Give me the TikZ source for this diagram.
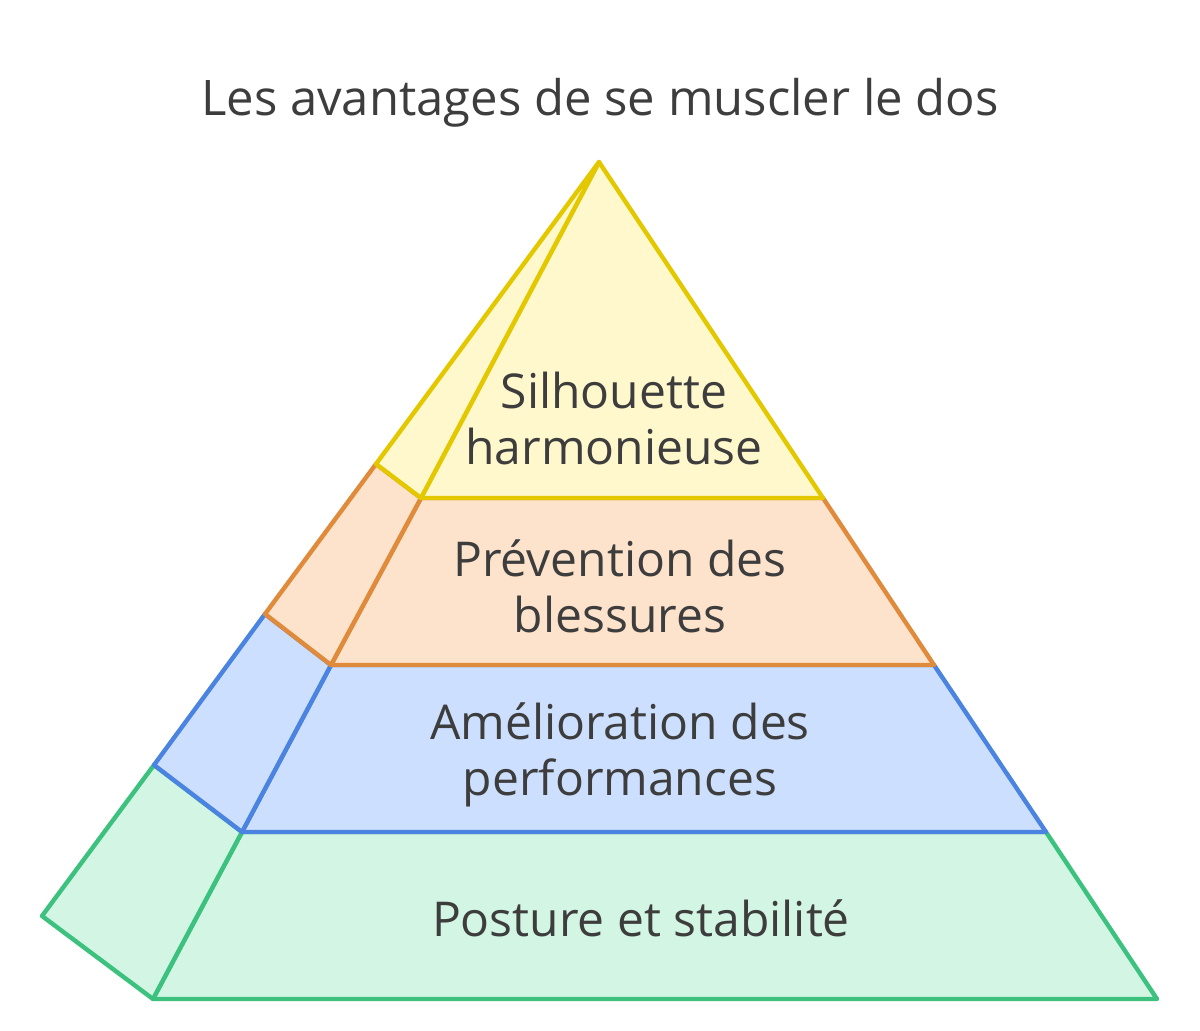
\documentclass[tikz,border=0pt]{standalone}
\usepackage{fontspec}
\setmainfont{Open Sans}
\usetikzlibrary{positioning}
\definecolor{texte}{HTML}{3D3D3D}
\definecolor{jauneTrait}{HTML}{E3C800}
\definecolor{jauneFond}{HTML}{FFF8CC}
\definecolor{orangeTrait}{HTML}{E08A3C}
\definecolor{orangeFond}{HTML}{FDE3CC}
\definecolor{bleuTrait}{HTML}{4A84E0}
\definecolor{bleuFond}{HTML}{CDDFFE}
\definecolor{vertTrait}{HTML}{3CC27E}
\definecolor{vertFond}{HTML}{D3F5E4}
\tikzset{
  couche/.style = {line width=2.2pt, line join=round},
  couche_j/.style = {couche, draw=jauneTrait, fill=jauneFond},% couche jaune, sommet
  couche_o/.style = {couche, draw=orangeTrait, fill=orangeFond},% couche orange
  couche_b/.style = {couche, draw=bleuTrait, fill=bleuFond},% couche bleue
  couche_v/.style = {couche, draw=vertTrait, fill=vertFond},% couche verte, base
  etiquette/.style = {align=center, text=texte, inner sep=0pt,
    font=\fontsize{24}{28}\selectfont},
  titre/.style = {etiquette, font=\fontsize{24.5}{28}\selectfont}
}
\begin{document}
\begin{tikzpicture}[x=0.5pt,y=-0.5pt]
        \useasboundingbox (0,0) rectangle (1200,1031);
        % sommet et aretes
        \coordinate (S) at (599,162);
        \coordinate (j1) at (421,498); \coordinate (j2) at (823,498); \coordinate (js) at (376,464);
        \coordinate (o1) at (331,665); \coordinate (o2) at (934,665); \coordinate (os) at (265,614);
        \coordinate (b1) at (242,832); \coordinate (b2) at (1046,832); \coordinate (bs) at (154,765);
        \coordinate (v1) at (153,999); \coordinate (v2) at (1157,999); \coordinate (vs) at (42,916);
        % base vers sommet
        \draw [couche_v] (v1) -- (v2) -- (b2) -- (b1) -- cycle;
        \draw [couche_v] (v1) -- (vs) -- (bs) -- (b1) -- cycle;
        \draw [couche_b] (b1) -- (b2) -- (o2) -- (o1) -- cycle;
        \draw [couche_b] (b1) -- (bs) -- (os) -- (o1) -- cycle;
        \draw [couche_o] (o1) -- (o2) -- (j2) -- (j1) -- cycle;
        \draw [couche_o] (o1) -- (os) -- (js) -- (j1) -- cycle;
        \draw [couche_j] (j1) -- (j2) -- (S) -- cycle;
        \draw [couche_j] (j1) -- (js) -- (S) -- cycle;
        % textes
        \node [titre] (T) at (600,103) {Les avantages de se muscler le dos};
        \node [etiquette] (J) at (614,419) {Silhouette\\harmonieuse};
        \node [etiquette] (O) at (620,586) {Prévention des\\blessures};
        \node [etiquette] (B) at (620,755) {Amélioration des\\performances};
        \node [etiquette] (V) at (641,918) {Posture et stabilité};
\end{tikzpicture}
\end{document}
